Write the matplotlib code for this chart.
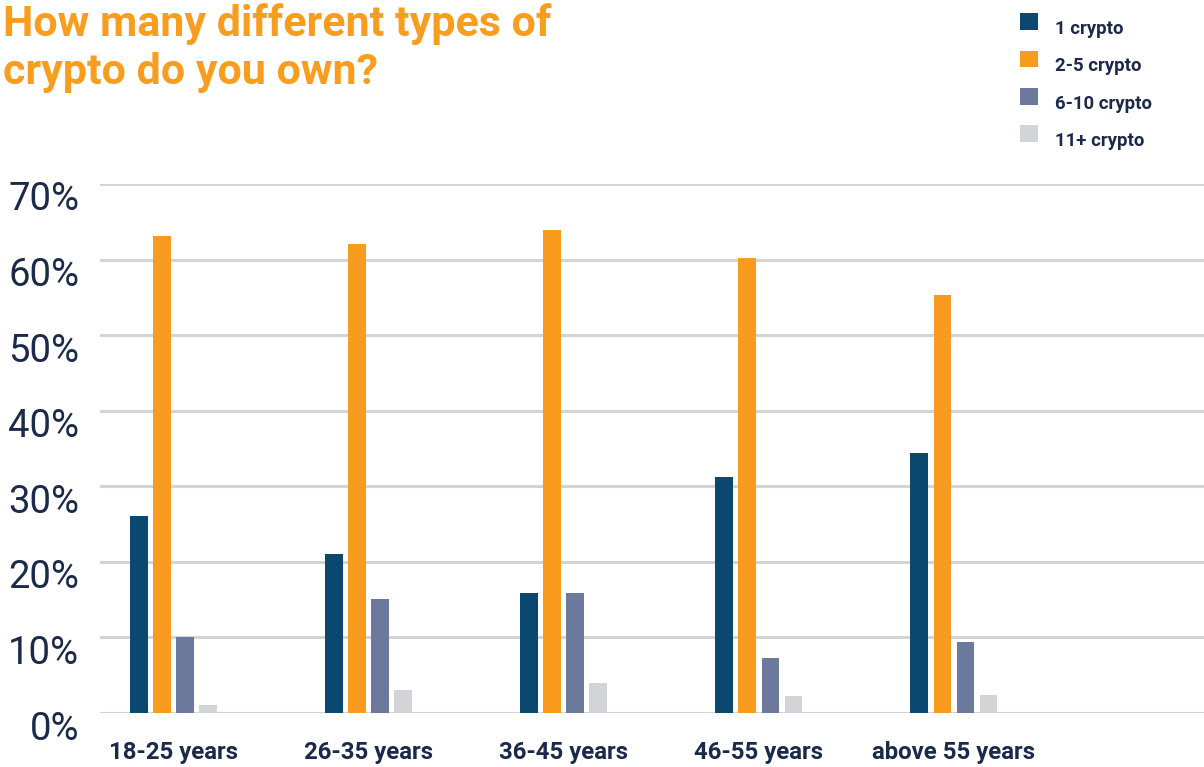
import matplotlib.pyplot as plt
import matplotlib.transforms as mtransforms
import numpy as np

plt.rcParams['font.family'] = ['Roboto', 'DejaVu Sans']

# --- data ---
age_groups = ['18-25 years', '26-35 years', '36-45 years', '46-55 years', 'above 55 years']
series_names = ['1 crypto', '2-5 crypto', '6-10 crypto', '11+ crypto']
one_crypto = [26.1, 21.0, 15.9, 31.2, 34.4]
two_to_five = [63.1, 62.1, 63.9, 60.2, 55.3]
six_to_ten = [10.1, 15.1, 15.9, 7.3, 9.4]
eleven_plus = [1.1, 3.0, 4.0, 2.2, 2.4]
y_ticks = [0, 10, 20, 30, 40, 50, 60, 70]

colors = ['#0a4870', '#f99b1f', '#6b7a9c', '#d3d4d8']
text_col = '#1b2a4a'

fig = plt.figure(figsize=(12.04, 7.67), dpi=100)
ax = fig.add_axes([100 / 1204, 54 / 767, 1104 / 1204, 529 / 767])

x = np.arange(len(age_groups))
step = 0.118
width = 0.092
all_series = [one_crypto, two_to_five, six_to_ten, eleven_plus]
for i, (vals, name, c) in enumerate(zip(all_series, series_names, colors)):
    ax.bar(x + (i - 1.5) * step, vals, width=width, color=c, label=name, zorder=3)

ax.set_xlim(-0.379, 5.282)
ax.set_ylim(0, 70)
ax.set_yticks(y_ticks)
ax.set_yticklabels([f'{t}%' for t in y_ticks])
ax.set_xticks(x)
ax.set_xticklabels(age_groups)

ax.grid(axis='y', color='#d4d4d8', linewidth=2.2, zorder=0)
ax.set_axisbelow(True)
for s in ax.spines.values():
    s.set_visible(False)
ax.tick_params(axis='both', length=0)
ax.tick_params(axis='y', labelsize=27.5, labelcolor=text_col, pad=15)
ax.tick_params(axis='x', labelsize=17.3, labelcolor=text_col, pad=20)
for lbl in ax.get_xticklabels():
    lbl.set_fontweight('bold')
# tick labels sit a little below their grid lines in the original
off = mtransforms.ScaledTranslation(0, -12 / 100, fig.dpi_scale_trans)
for lbl in ax.get_yticklabels():
    lbl.set_transform(lbl.get_transform() + off)

fig.text(3 / 1204, 1 - 3 / 767, 'How many different types of\ncrypto do you own?',
         ha='left', va='top', fontsize=31, fontweight='bold', color='#f99d1f',
         linespacing=1.22)

leg = fig.legend(loc='upper left', bbox_to_anchor=(1013 / 1204, 1 - 6 / 767),
                 frameon=False, prop={'size': 13.4, 'weight': 'bold'},
                 handlelength=0.95, handleheight=1.0, handletextpad=0.9,
                 labelspacing=1.0, borderaxespad=0)
for t in leg.get_texts():
    t.set_color(text_col)
    t.set_y(-6)

fig.savefig('out.png', dpi=100)
